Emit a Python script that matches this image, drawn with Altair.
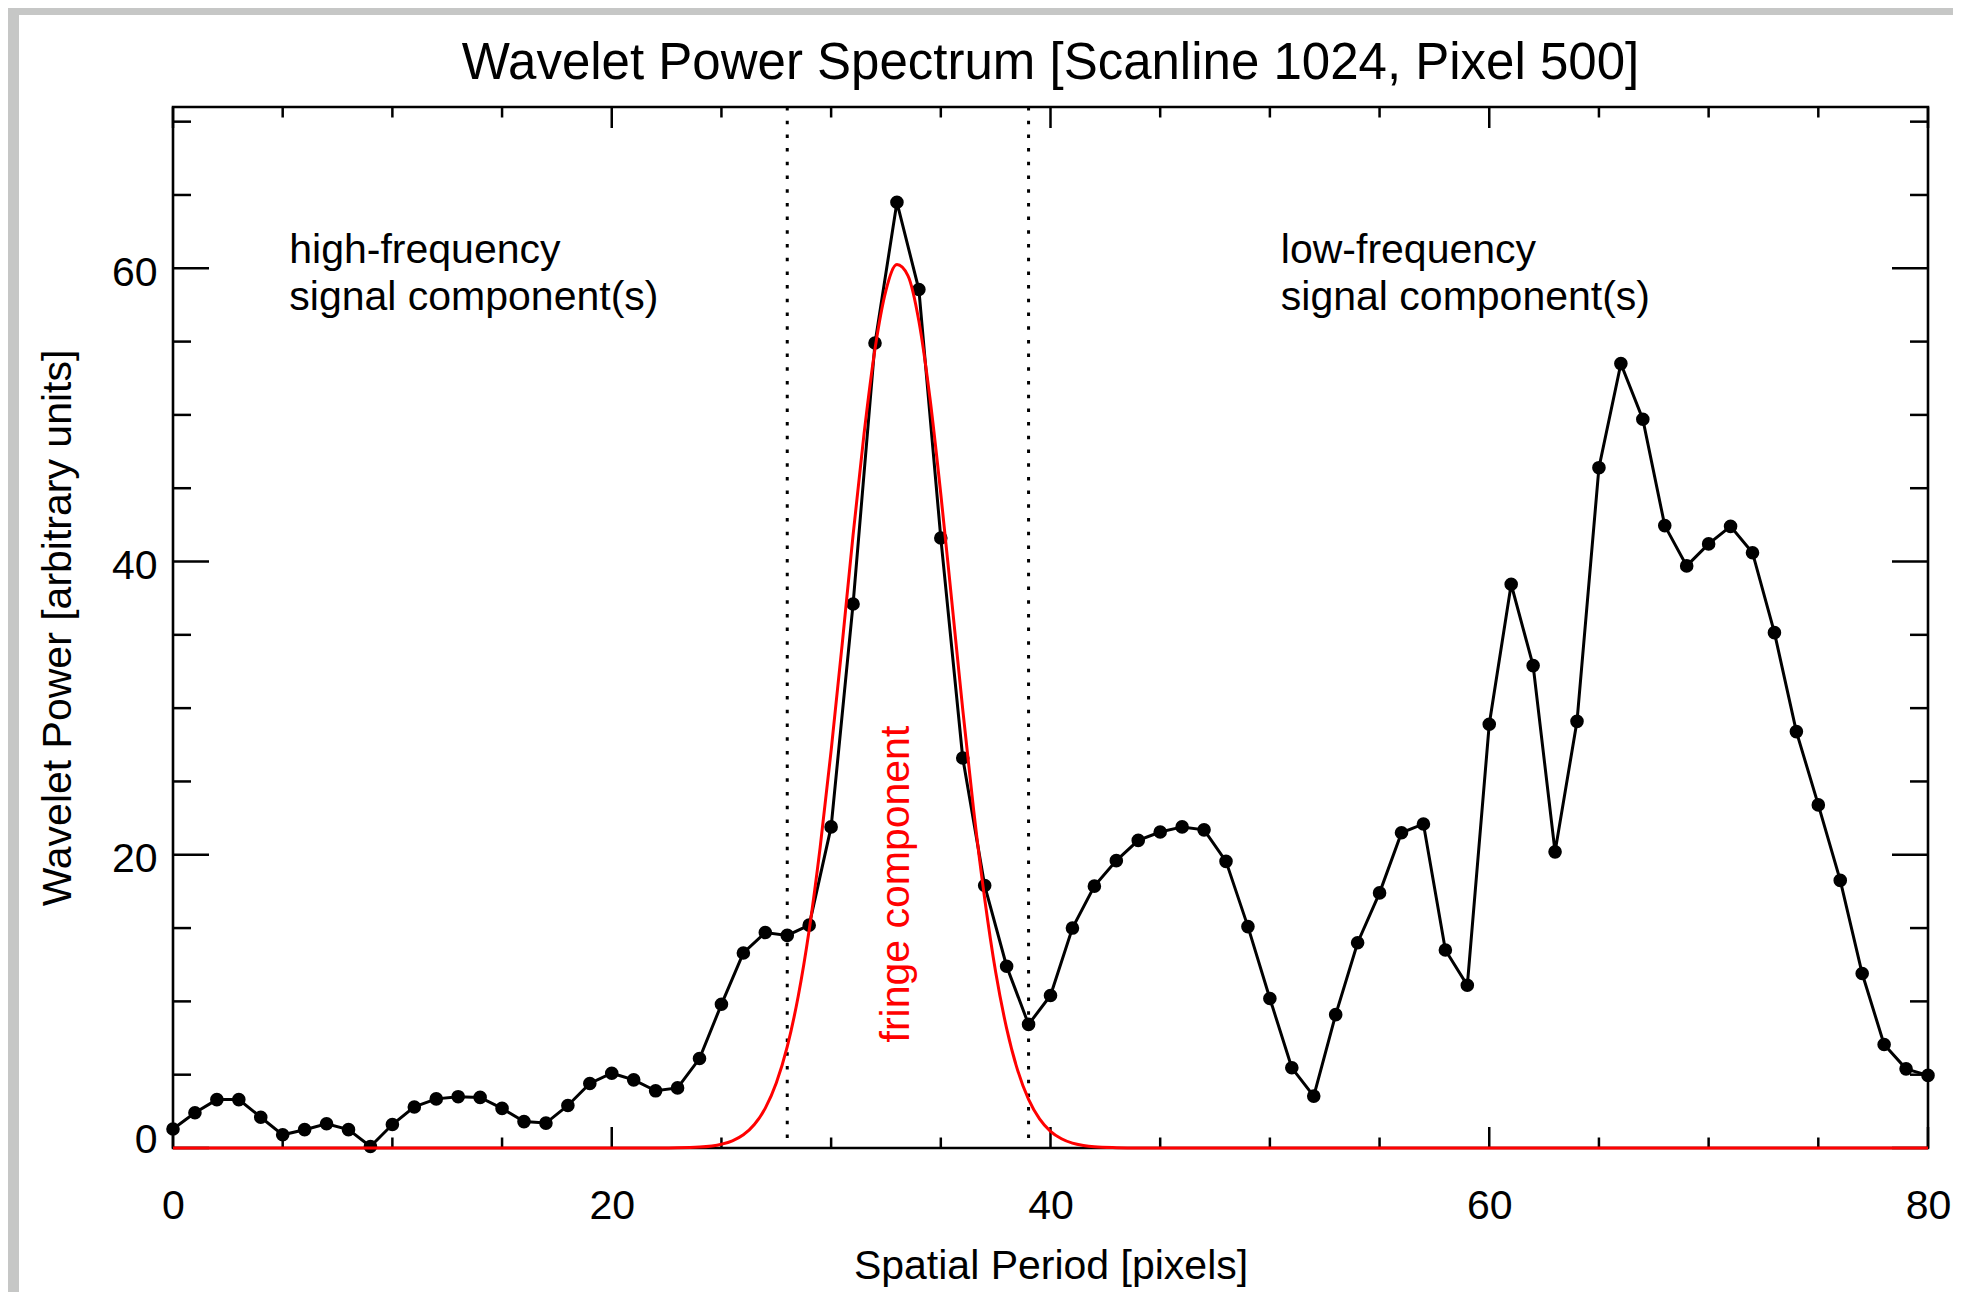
import altair as alt
import pandas as pd

# ---- data ----
period = list(range(0, 81))
power = [1.3, 2.4, 3.3, 3.3, 2.1, 0.9, 1.25, 1.65, 1.25, 0.1,
         1.6, 2.8, 3.35, 3.5, 3.45, 2.7, 1.8, 1.7, 2.9, 4.4,
         5.1, 4.65, 3.9, 4.1, 6.1, 9.8, 13.3, 14.7, 14.5, 15.2,
         21.9, 37.1, 54.9, 64.5, 58.55, 41.6, 26.6, 17.9, 12.4, 8.43,
         10.4, 15.0, 17.86, 19.6, 20.98, 21.55, 21.9, 21.7, 19.55, 15.1,
         10.2, 5.47, 3.54, 9.1, 14.0, 17.4, 21.5, 22.1, 13.5, 11.1,
         28.9, 38.45, 32.9, 20.2, 29.1, 46.4, 53.5, 49.7, 42.45, 39.7,
         41.2, 42.4, 40.6, 35.15, 28.4, 23.4, 18.25, 11.9, 7.06, 5.4,
         4.95]

fit_x = [0, 22, 23, 24, 25, 25.5, 26, 26.5, 27, 27.5, 28, 28.5, 29, 29.5,
         30, 30.5, 31, 31.5, 32, 32.5, 33, 33.5, 34, 34.5, 35, 35.5, 36,
         36.5, 37, 37.5, 38, 38.5, 39, 39.5, 40, 40.5, 41, 41.5, 42, 43, 44, 80]
fit_y = [0, 0, 0.01, 0.06, 0.26, 0.49, 0.9, 1.6, 2.72, 4.43, 6.91, 10.35, 14.87, 20.5,
         27.1, 34.3, 41.8, 48.7, 54.5, 58.5, 60.25, 59.5, 56.4, 51.2, 44.6, 37.3, 29.9,
         23.0, 17.0, 12.0, 8.16, 5.31, 3.32, 1.99, 1.14, 0.63, 0.33, 0.17, 0.08, 0.02, 0, 0]

band_edges = [28, 39]

x_major = [0, 20, 40, 60, 80]
x_minor = [5, 10, 15, 25, 30, 35, 45, 50, 55, 65, 70, 75]
y_major = [0, 20, 40, 60]
y_minor = [5, 10, 15, 25, 30, 35, 45, 50, 55, 65, 70]

ann_x = [5.3, 5.3, 50.5, 50.5]
ann_y = [61.2, 58.0, 61.2, 58.0]
ann_text = ["high-frequency", "signal component(s)",
            "low-frequency", "signal component(s)"]

fringe_x = [33.0]
fringe_y = [18.0]
fringe_text = ["fringe component"]

title_x = [40]
title_y = [73.95]
title_text = ["Wavelet Power Spectrum [Scanline 1024, Pixel 500]"]

X_TITLE = "Spatial Period [pixels]"
Y_TITLE = "Wavelet Power [arbitrary units]"

# ---- layout ----
W, H = 1755, 1041
PAD = {"left": 165, "top": 99, "right": 25, "bottom": 144}
FONT = "Liberation Sans"
GRAY = "#c6c7c6"

xs = alt.Scale(domain=[0, 80], nice=False, zero=False)
ys = alt.Scale(domain=[0, 71], nice=False, zero=False)
xaxis = alt.Axis(values=x_major, ticks=False, tickSize=0, domain=False, grid=False,
                 labelFontSize=41, labelFont=FONT, labelPadding=38, labelColor="black",
                 labelFlush=False,
                 title=X_TITLE, titleFontSize=41, titleFont=FONT, titleFontWeight="normal",
                 titleColor="black", titlePadding=20, format="d")
yaxis = alt.Axis(values=y_major, ticks=False, tickSize=0, domain=False, grid=False,
                 labelFontSize=41, labelFont=FONT, labelPadding=16, labelColor="black",
                 labelFlush=True, labelFlushOffset=8, labelOffset=5,
                 title=Y_TITLE, titleFontSize=41, titleFont=FONT, titleFontWeight="normal",
                 titleColor="black", titlePadding=32, format="d")


def X(f):
    return alt.X(f, type="quantitative", scale=xs, axis=xaxis)


def Y(f):
    return alt.Y(f, type="quantitative", scale=ys, axis=yaxis)


main = pd.DataFrame({"p": period, "w": power})
fit = pd.DataFrame({"p": fit_x, "w": fit_y})
edges = pd.DataFrame({"p": band_edges})
ann = pd.DataFrame({"p": ann_x, "w": ann_y, "t": ann_text})
fr = pd.DataFrame({"p": fringe_x, "w": fringe_y, "t": fringe_text})
ttl = pd.DataFrame({"p": title_x, "w": title_y, "t": title_text})
one = pd.DataFrame({"a": [0]})

# gray page strips (decoration)
strip_top = alt.Chart(one).mark_rect(color=GRAY).encode(
    x=alt.value(-PAD["left"]), x2=alt.value(W + PAD["right"]),
    y=alt.value(-PAD["top"]), y2=alt.value(-PAD["top"] + 7))
strip_left = alt.Chart(one).mark_rect(color=GRAY).encode(
    x=alt.value(-PAD["left"]), x2=alt.value(-PAD["left"] + 11),
    y=alt.value(-PAD["top"]), y2=alt.value(H + PAD["bottom"]))

dotted = alt.Chart(edges).mark_rule(color="black", strokeWidth=3, strokeDash=[3.5, 10.2]).encode(
    x=X("p"), y=alt.value(0), y2=alt.value(H))

black = alt.Chart(main).mark_line(
    color="black", strokeWidth=3,
    point=alt.OverlayMarkDef(filled=True, size=185, color="black", opacity=1)
).encode(x=X("p"), y=Y("w"))

red = alt.Chart(fit).mark_line(color="#ff0000", strokeWidth=3, interpolate="monotone").encode(
    x=X("p"), y=Y("w"))


def xticks(vals, ln):
    d = pd.DataFrame({"p": vals})
    bot = alt.Chart(d).mark_rule(color="black", strokeWidth=2.5).encode(
        x=X("p"), y=alt.value(H), y2=alt.value(H - ln))
    top = alt.Chart(d).mark_rule(color="black", strokeWidth=2.5).encode(
        x=X("p"), y=alt.value(0), y2=alt.value(ln))
    return [bot, top]


def yticks(vals, ln):
    d = pd.DataFrame({"w": vals})
    left = alt.Chart(d).mark_rule(color="black", strokeWidth=2.5).encode(
        y=Y("w"), x=alt.value(0), x2=alt.value(ln))
    right = alt.Chart(d).mark_rule(color="black", strokeWidth=2.5).encode(
        y=Y("w"), x=alt.value(W), x2=alt.value(W - ln))
    return [left, right]


ticks = xticks(x_major, 21) + xticks(x_minor, 10.5) + yticks(y_major, 36) + yticks(y_minor, 18)

ann_layer = alt.Chart(ann).mark_text(
    align="left", baseline="middle", fontSize=41, font=FONT, color="black").encode(
    x=X("p"), y=Y("w"), text="t:N")

fringe_layer = alt.Chart(fr).mark_text(
    angle=270, align="center", baseline="middle", fontSize=41, font=FONT, color="#ff0000").encode(
    x=X("p"), y=Y("w"), text="t:N")

title_layer = alt.Chart(ttl).mark_text(
    align="center", baseline="middle", fontSize=51, font=FONT, color="black").encode(
    x=X("p"), y=Y("w"), text="t:N")

chart = alt.layer(
    strip_top, strip_left, dotted, *ticks, black, red, ann_layer, fringe_layer, title_layer
).properties(
    width=W, height=H,
    autosize=alt.AutoSizeParams(type="none"),
    padding=PAD,
    background="white",
).configure_view(stroke="black", strokeWidth=2.6, fill="white")

chart.save("out.html", embed_options={"renderer": "svg", "actions": False})
